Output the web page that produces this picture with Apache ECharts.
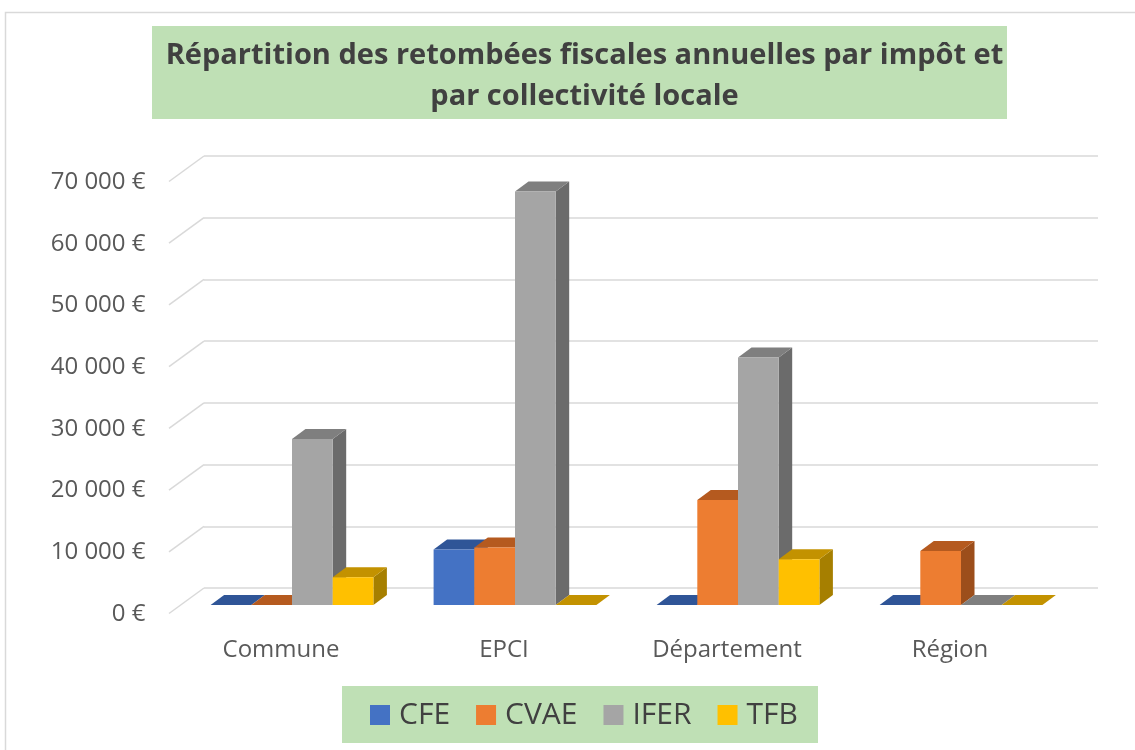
<!DOCTYPE html>
<html><head><meta charset="utf-8">
<script src="https://cdn.jsdelivr.net/npm/echarts@6/dist/echarts.min.js"></script>
<style>html,body{margin:0;padding:0;background:#fff}#c{width:1135px;height:750px}</style>
</head><body><div id="c"></div>
<script>
// ---- data ----
const categories = ['Commune', 'EPCI', 'Département', 'Région'];
const seriesNames = ['CFE', 'CVAE', 'IFER', 'TFB'];
const cfe  = [0, 9000, 0, 0];
const cvae = [0, 9300, 17000, 8750];
const ifer = [26900, 67000, 40100, 0];
const tfb  = [4500, 0, 7400, 0];
const yTicks = [0, 10000, 20000, 30000, 40000, 50000, 60000, 70000];
const yTickLabels = ['0 €', '10 000 €', '20 000 €', '30 000 €', '40 000 €', '50 000 €', '60 000 €', '70 000 €'];
const titleText = 'Répartition des retombées fiscales annuelles par impôt et\npar collectivité locale';

// ---- styles ----
const frontCol = ['#4472C4', '#ED7D31', '#A5A5A5', '#FFC000'];
const topCol   = ['#2F5597', '#B55A1F', '#7F7F7F', '#C39200'];
const sideCol  = ['#2C4E8A', '#9C4E1B', '#6B6B6B', '#A67F00'];
const DX = 13.5, DY = -10;       // bar depth projection
const WDX = -35, WDY = 25.5;     // wall depth projection (back -> front)
const BAR_FRAC = 0.1825;
const gridCol = '#D9D9D9';

const valuesBySeries = [cfe, cvae, ifer, tfb];

function barRenderer(k) {
  return function (params, api) {
    const cat = api.value(0), val = api.value(1);
    const b = api.coord([cat, 0]);
    const t = api.coord([cat, val]);
    const band = api.size([1, 0])[0];
    const w = band * BAR_FRAC;
    const x0 = b[0] - 2 * w + k * w;
    const by = b[1], ty = t[1];
    const children = [];
    children.push({ type: 'polygon', shape: { points: [[x0 + w, ty], [x0 + w + DX, ty + DY], [x0 + w + DX, by + DY], [x0 + w, by]] }, style: { fill: sideCol[k] } });
    children.push({ type: 'polygon', shape: { points: [[x0, ty], [x0 + w, ty], [x0 + w + DX, ty + DY], [x0 + DX, ty + DY]] }, style: { fill: topCol[k] } });
    if (by - ty > 0) children.push({ type: 'rect', shape: { x: x0, y: ty, width: w, height: by - ty }, style: { fill: frontCol[k] } });
    return { type: 'group', children: children };
  };
}

const series = valuesBySeries.map((vals, k) => ({
  name: seriesNames[k],
  type: 'custom',
  xAxisIndex: 0, yAxisIndex: 0,
  z: 3,
  itemStyle: { color: frontCol[k] },
  renderItem: barRenderer(k),
  data: vals.map((v, i) => [i, v])
}));

series.push({
  name: 'diag',
  type: 'custom',
  xAxisIndex: 2, yAxisIndex: 2,
  z: 1,
  silent: true,
  renderItem: function (params, api) {
    const p = api.coord([0, api.value(0)]);
    return { type: 'line', shape: { x1: p[0], y1: p[1], x2: p[0] + WDX, y2: p[1] + WDY }, style: { stroke: gridCol, lineWidth: 1.5 } };
  },
  data: yTicks.map(v => [v])
});

const chart = echarts.init(document.getElementById('c'), null, { renderer: 'canvas' });
chart.setOption({
  animation: false,
  backgroundColor: '#fff',
  textStyle: { fontFamily: 'Open Sans' },
  title: {
    text: titleText,
    left: 579.5, top: 30.5, textAlign: 'center',
    textStyle: { fontFamily: '"Open Sans", sans-serif', fontWeight: 'bold', fontSize: 29, color: '#404040', lineHeight: 41 }
  },
  legend: {
    data: seriesNames,
    left: 370, top: 700, padding: 0,
    icon: 'rect', itemWidth: 20, itemHeight: 20, itemGap: 26,
    textStyle: { fontFamily: 'Open Sans', fontSize: 30, color: '#404040', padding: [0, 0, 0, 4] }
  },
  graphic: [
    { type: 'rect', shape: { x: 5.5, y: 12.5, width: 1200, height: 800 }, style: { fill: null, stroke: gridCol, lineWidth: 1.5 }, z: -10 },
    { type: 'rect', shape: { x: 152, y: 26, width: 855, height: 93 }, style: { fill: '#BFE0B5' }, z: -5 },
    { type: 'rect', shape: { x: 342, y: 686, width: 476, height: 57 }, style: { fill: '#BFE0B5' }, z: -5 }
  ],
  grid: [
    { left: 180.5, right: 62.5, top: 173, bottom: 145 },   // bar plane
    { left: 169.5, right: 73.5, top: 182, bottom: 136 },   // front plane (labels)
    { left: 204, right: 37, top: 156, bottom: 162 }        // back wall
  ],
  xAxis: [
    { gridIndex: 0, type: 'category', data: categories, show: false },
    { gridIndex: 1, type: 'category', data: categories, axisLine: { show: false }, axisTick: { show: false }, splitLine: { show: false },
      axisLabel: { fontFamily: 'Open Sans', fontSize: 24, color: '#595959', margin: 24 } },
    { gridIndex: 2, type: 'value', min: 0, max: 1, show: false, splitLine: { show: false } }
  ],
  yAxis: [
    { gridIndex: 0, type: 'value', min: 0, max: 70000, interval: 10000, show: false, splitLine: { show: false } },
    { gridIndex: 1, type: 'value', min: 0, max: 70000, interval: 10000, axisLine: { show: false }, axisTick: { show: false }, splitLine: { show: false },
      axisLabel: { fontFamily: 'Open Sans', fontSize: 24, color: '#595959', margin: 24, formatter: v => yTickLabels[yTicks.indexOf(v)] } },
    { gridIndex: 2, type: 'value', min: 0, max: 70000, interval: 10000, axisLine: { show: false }, axisTick: { show: false }, axisLabel: { show: false },
      splitLine: { show: true, lineStyle: { color: gridCol, width: 1.5 } } }
  ],
  series: series
});
</script></body></html>
